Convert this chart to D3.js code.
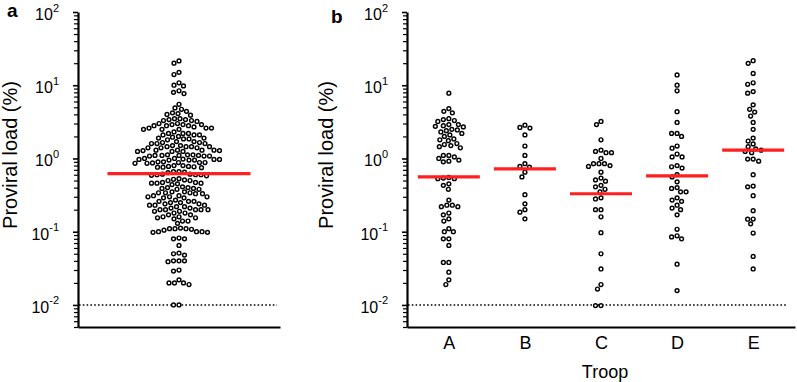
<!DOCTYPE html>
<html lang="en">
<head>
<meta charset="UTF-8">
<title>Proviral load</title>
<script src="https://d3js.org/d3.v7.min.js"></script>
<style>
    body { margin: 0; background: #fff; }
    svg { display: block; font-family: "Liberation Sans", Arial, sans-serif; }
    .axis path, .axis line { stroke: #000; }
</style>
</head>
<body>
<div id="chart"></div>
<script>
// ---- data (proviral load, %) ----
const allAnimals = [
    21.5, 20, 15, 14, 10.8, 10, 9.8, 8.4, 8, 7.7, 5.5, 4.9, 4.7, 4.4, 4.2, 4.1, 4.0, 3.9,
    3.5, 3.4, 3.3, 3.4, 3.2, 3.5, 3.3,
    2.9, 3.0, 2.8, 2.9, 2.8, 3.0, 2.9, 2.8,
    2.6, 2.5, 2.6, 2.5, 2.7, 2.6, 2.5,
    2.2, 2.1, 2.2, 2.1, 2.0, 2.2, 2.1, 2.3,
    1.9, 1.85, 1.95, 1.8, 1.9, 1.85,
    1.65, 1.6, 1.7, 1.6, 1.7, 1.65, 1.6,
    1.45, 1.4, 1.45, 1.5, 1.4, 1.45, 1.5, 1.4, 1.45,
    1.3, 1.25, 1.3, 1.28, 1.25, 1.3, 1.25, 1.28, 1.3,
    1.1, 1.08, 1.12, 1.1, 1.08, 1.1, 1.12, 1.1, 1.08, 1.12,
    0.97, 0.95, 1.0, 0.97, 0.95, 0.98, 0.97, 0.95, 1.0,
    0.88, 0.86, 0.9, 0.88, 0.86, 0.88, 0.9, 0.87,
    0.78, 0.76, 0.8, 0.77, 0.75, 0.78, 0.8, 0.76,
    0.66, 0.65, 0.64, 0.66,
    0.6, 0.59, 0.61, 0.6, 0.58, 0.6, 0.61,
    0.52, 0.5, 0.51, 0.53, 0.5,
    0.46, 0.45, 0.47, 0.46, 0.44, 0.46, 0.47,
    0.4, 0.39, 0.38, 0.4, 0.39, 0.41, 0.38,
    0.34, 0.35, 0.33, 0.34, 0.35, 0.33, 0.34,
    0.3, 0.29, 0.31, 0.3, 0.29, 0.3, 0.31,
    0.26, 0.25, 0.27, 0.26, 0.25, 0.26,
    0.23, 0.22, 0.24, 0.23, 0.22, 0.23, 0.24,
    0.2, 0.2, 0.21, 0.2, 0.19, 0.2, 0.21, 0.2,
    0.18, 0.17, 0.18, 0.19, 0.17,
    0.16, 0.155, 0.15, 0.16, 0.155,
    0.14, 0.13, 0.14,
    0.11, 0.11, 0.105, 0.11, 0.112, 0.108,
    0.1, 0.098, 0.1, 0.1, 0.098,
    0.082, 0.08, 0.08, 0.065,
    0.05, 0.048, 0.051,
    0.04, 0.039, 0.04, 0.04,
    0.03, 0.029,
    0.02, 0.02, 0.019, 0.02, 0.022,
    0.01, 0.01
];
const allMedian = 0.62;

const troops = ["A", "B", "C", "D", "E"];
const troopA = [
    7.8, 4.8, 4.4, 4.2, 3.4, 3.3, 3.2, 3.5, 2.9, 2.8, 2.7, 2.75, 2.9,
    2.5, 2.4, 2.45, 2.3, 2.1, 2.0, 2.2, 1.8, 1.75, 1.6, 1.85,
    1.5, 1.45, 1.4, 1.55, 1.1, 1.05, 1.0, 1.1, 0.92, 0.9, 0.95,
    0.54, 0.53, 0.53, 0.55, 0.43, 0.38, 0.45, 0.27, 0.23, 0.22, 0.23, 0.22,
    0.18, 0.17, 0.15, 0.14, 0.11, 0.1, 0.1, 0.08, 0.08, 0.065,
    0.038, 0.038, 0.028, 0.022, 0.019
];
const troopB = [2.85, 2.6, 2.65, 2.1, 1.48, 1.1, 0.85, 0.76, 0.78, 0.65, 0.56, 0.32, 0.24, 0.2, 0.185, 0.15];
const troopC = [
    3.2, 2.9, 1.8, 1.2, 1.3, 1.25, 1.2, 1.0, 0.85, 0.85, 0.78, 0.8, 0.85, 0.65,
    0.51, 0.43, 0.49, 0.54, 0.38, 0.41, 0.35, 0.29, 0.28, 0.2, 0.2, 0.16,
    0.097, 0.05, 0.031, 0.019, 0.0165, 0.0098, 0.0098
];
const troopD = [
    13.8, 10, 8.4, 4.35, 3.1, 2.2, 2.0, 2.2, 1.48, 1.38, 1.15, 1.05, 1.05,
    0.77, 0.74, 0.8, 0.56, 0.48, 0.6, 0.39, 0.35, 0.35, 0.4, 0.29, 0.26, 0.27,
    0.21, 0.23, 0.2, 0.17, 0.108, 0.088, 0.08, 0.085, 0.036, 0.0157
];
const troopE = [
    21.6, 19.9, 14.5, 10.8, 10.3, 7.8, 8.2, 4.7, 5.4, 4.3, 3.8, 3.1, 2.5,
    1.9, 1.58, 1.73, 1.45, 1.3, 1.2, 1.35, 1.25, 0.98, 0.92, 0.98,
    0.6, 0.41, 0.42, 0.31, 0.194, 0.148, 0.128, 0.149, 0.096, 0.046, 0.031
];
const troopValues = [troopA, troopB, troopC, troopD, troopE];
const troopMedians = [0.56, 0.72, 0.33, 0.58, 1.3];

const detectionLimit = 0.01;
const labelExponents = [-2, -1, 0, 1, 2];

// ---- layout ----
const width = 797, height = 382;
const svg = d3.select("#chart").append("svg")
    .attr("width", width)
    .attr("height", height);

const y = d3.scaleLog().domain([0.005, 100]).range([327, 12]);

// minor + major tick positions
const tickVals = [];
for (let e = -3; e <= 2; e++) {
    for (let m = 1; m <= 9; m++) {
        const v = m * Math.pow(10, e);
        if (v >= 0.005 && v <= 100.0001) tickVals.push(v);
    }
}
const isMajor = d => Math.abs(Math.log10(d) % 1) < 1e-9;

function drawYAxis(x0) {
    const g = svg.append("g")
        .attr("class", "axis")
        .attr("transform", `translate(${x0},0)`)
        .call(d3.axisLeft(y).tickValues(tickVals).tickFormat("").tickSizeOuter(0)
            .tickSizeInner(4));
    g.select(".domain").attr("stroke-width", 2.2);
    g.selectAll(".tick line")
        .attr("stroke-width", d => isMajor(d) ? 1.6 : 1.2)
        .attr("x2", d => isMajor(d) ? -5 : -4);

    // 10^n labels
    labelExponents.forEach(e => {
        const t = svg.append("text")
            .attr("x", x0 - 19)
            .attr("y", y(Math.pow(10, e)) + 8)
            .attr("text-anchor", "end")
            .attr("font-size", 16)
            .attr("fill", "#000");
        t.append("tspan").text("10");
        t.append("tspan").attr("dy", -8.5).attr("font-size", 11).text(e);
    });
}

function drawTitle(cx) {
    svg.append("text")
        .attr("transform", `translate(${cx},155) rotate(-90)`)
        .attr("text-anchor", "middle")
        .attr("font-size", 20)
        .attr("fill", "#000")
        .text("Proviral load (%)");
}

// simple beeswarm: place points as close to centre as possible without overlap
function swarm(values, cx, D) {
    const pts = values.map(v => ({ v, y: y(v) })).sort((a, b) => a.y - b.y);
    const placed = [];
    pts.forEach(p => {
        for (let k = 0; k < 2000; k++) {
            const off = (k % 2 === 0 ? 1 : -1) * Math.ceil(k / 2) * 0.5;
            const x = cx + off;
            const ok = placed.every(q => (q.x - x) ** 2 + (q.y - p.y) ** 2 >= D * D);
            if (ok) { p.x = x; break; }
        }
        placed.push(p);
    });
    return placed;
}

function drawDots(pts) {
    svg.append("g").selectAll("circle")
        .data(pts)
        .enter().append("circle")
        .attr("cx", d => d.x)
        .attr("cy", d => d.y)
        .attr("r", 1.9)
        .attr("fill", "#fff")
        .attr("stroke", "#000")
        .attr("stroke-width", 1.45);
}

function drawLimit(x1, x2) {
    svg.append("line")
        .attr("x1", x1).attr("x2", x2)
        .attr("y1", y(detectionLimit)).attr("y2", y(detectionLimit))
        .attr("stroke", "#000")
        .attr("stroke-width", 1.6)
        .attr("stroke-dasharray", "1.6,2.2");
}

function drawMedian(cx, half, v) {
    svg.append("line")
        .attr("x1", cx - half).attr("x2", cx + half)
        .attr("y1", y(v)).attr("y2", y(v))
        .attr("stroke", "#ff1f1f")
        .attr("stroke-width", 3.2);
}

// ---- panel a ----
const xA = d3.scaleLinear().domain([0, 1]).range([78, 280]);
drawYAxis(78);
svg.append("g")
    .attr("class", "axis")
    .attr("transform", `translate(0,327)`)
    .call(d3.axisBottom(xA).ticks(0).tickSizeOuter(0))
    .select(".domain").attr("stroke-width", 2.2);
drawTitle(17);
drawLimit(79, 277);
drawDots(swarm(allAnimals, xA(0.5), 5.4));
drawMedian(xA(0.5), 71.5, allMedian);

svg.append("text")
    .attr("x", 7).attr("y", 17)
    .attr("font-size", 19).attr("font-weight", "bold")
    .text("a");

// ---- panel b ----
const xB = d3.scalePoint().domain(troops).range([407, 795]).padding(0.55);
drawYAxis(407);
const gxB = svg.append("g")
    .attr("class", "axis")
    .attr("transform", `translate(0,327)`)
    .call(d3.axisBottom(xB).tickSize(0).tickSizeOuter(0).tickPadding(9));
gxB.select(".domain").attr("stroke-width", 2.2);
gxB.selectAll(".tick text")
    .attr("font-size", 18)
    .attr("font-family", "Liberation Sans, Arial, sans-serif")
    .attr("fill", "#000");
drawTitle(333);
drawLimit(408, 787);

troops.forEach((t, i) => {
    drawDots(swarm(troopValues[i], xB(t), 5.4));
    drawMedian(xB(t), 31, troopMedians[i]);
});

svg.append("text")
    .attr("x", 605).attr("y", 378)
    .attr("text-anchor", "middle")
    .attr("font-size", 18)
    .text("Troop");

svg.append("text")
    .attr("x", 331).attr("y", 23)
    .attr("font-size", 19).attr("font-weight", "bold")
    .text("b");
</script>
</body>
</html>
